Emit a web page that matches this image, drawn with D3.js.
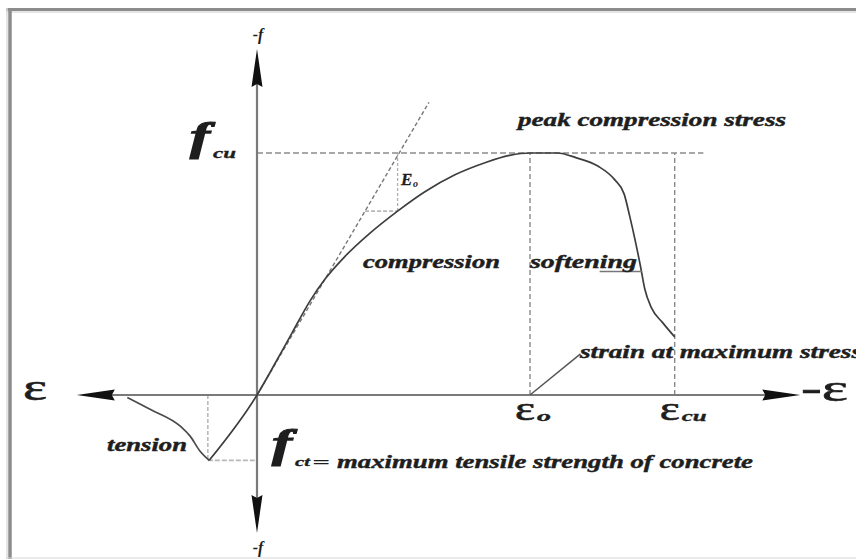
<!DOCTYPE html>
<html><head><meta charset="utf-8">
<script src="https://cdn.jsdelivr.net/npm/d3@7"></script>
<style>
html,body{margin:0;padding:0;background:#fff;}
svg{display:block;}
</style></head><body>
<svg id="c" width="856" height="559"></svg>
<script>
// ---- data (strain in arbitrary units, stress normalised to f_cu) ----
const tensionStrain = [-0.95, -0.78, -0.56, -0.49, -0.42, -0.35];
const tensionStress = [-0.01, -0.06, -0.13, -0.17, -0.23, -0.27];
const compressionStrain = [-0.35, 0, 0.13, 0.26, 0.39, 0.50, 0.64, 0.83, 1.03, 1.23, 1.45, 1.67, 1.85, 2.0, 2.20, 2.34, 2.50, 2.62, 2.69, 2.73, 2.77, 2.81, 2.84, 2.89, 2.97, 3.06];
const compressionStress = [-0.27, 0, 0.128, 0.26, 0.39, 0.48, 0.57, 0.67, 0.76, 0.84, 0.91, 0.96, 0.99, 1.0, 1.0, 0.98, 0.945, 0.89, 0.83, 0.74, 0.64, 0.53, 0.44, 0.36, 0.30, 0.24];
const keyStrains = [2.0, 3.06];          // eps_0, eps_cu
const keyStrainLabels = ["o", "cu"];
const fcu = 1.0, fct = -0.27, epsCt = -0.36;
const E0 = 0.96, tangentEndStrain = 1.26, triangleStrain = 1.03, triangleStress = 0.76;
const fcuLineEndStrain = 3.27;
const axisStrainRange = [-1.32, 3.98];
const axisStressRange = [-0.57, 1.43];
const leaderMaxStress = [[2.0, 0], [2.37, 0.17]];
const leaderSoftening = [[2.51, 0.51], [2.82, 0.51]];

const SERIF = "'Liberation Serif', 'DejaVu Serif', serif";

// ---- scales ----
const x = d3.scaleLinear().domain([0, 2]).range([257, 530]);
const y = d3.scaleLinear().domain([0, 1]).range([395, 153]);
const svg = d3.select("#c");

// frame
svg.append("rect").attr("x",0).attr("y",0).attr("width",856).attr("height",559).attr("fill","#fff");
svg.append("line").attr("x1",6).attr("x2",856).attr("y1",9.5).attr("y2",9.5).attr("stroke","#8c8c8c").attr("stroke-width",3);
svg.append("line").attr("x1",6).attr("x2",856).attr("y1",12).attr("y2",12).attr("stroke","#dcdcdc").attr("stroke-width",1.5);
svg.append("line").attr("x1",10).attr("x2",10).attr("y1",8).attr("y2",559).attr("stroke","#8c8c8c").attr("stroke-width",3.5);
svg.append("line").attr("x1",7).attr("x2",7).attr("y1",8).attr("y2",559).attr("stroke","#dcdcdc").attr("stroke-width",1.5);
svg.append("line").attr("x1",6).attr("x2",856).attr("y1",558).attr("y2",558).attr("stroke","#d8d8d8").attr("stroke-width",1.2);

// dashed guides
const dash = svg.append("g").attr("fill","none");
function dl(x1,y1,x2,y2,col,w,da){
  dash.append("line").attr("x1",x(x1)).attr("y1",y(y1)).attr("x2",x(x2)).attr("y2",y(y2))
    .attr("stroke",col).attr("stroke-width",w).attr("stroke-dasharray",da);
}
dl(0, fcu, fcuLineEndStrain, fcu, "#a8a8a8", 2, "6,3");
keyStrains.forEach(e => dl(e, 0, e, fcu, "#8a8a8a", 1.4, "5,3"));
dl(epsCt, 0, epsCt, fct, "#b0b0b0", 1.4, "4,2");
dl(epsCt, fct, 0, fct, "#b8b8b8", 1.8, "5,2");
dl(0, 0, tangentEndStrain, E0*tangentEndStrain, "#777", 1.4, "4,2.5");
dl(triangleStrain, triangleStress, triangleStrain, fcu, "#b0b0b0", 1.3, "3,2");
dl(triangleStress/E0, triangleStress, triangleStrain, triangleStress, "#b8b8b8", 1.8, "4,2");

// axes
const ax = svg.append("g").attr("stroke","#7a7a7a").attr("stroke-width",2.2);
ax.append("line").attr("x1",x(axisStrainRange[0])+20).attr("x2",x(axisStrainRange[1])-20).attr("y1",y(0)).attr("y2",y(0));
ax.append("line").attr("x1",x(0)).attr("x2",x(0)).attr("y1",y(axisStressRange[1])+20).attr("y2",y(axisStressRange[0])-20);

// arrowheads
function arrow(tx, ty, dx, dy){
  const L = 38, W = 5.5, px = -dy, py = dx;
  const bx = tx - dx*L, by = ty - dy*L;
  svg.append("path").attr("d", `M${tx},${ty}L${bx+px*W},${by+py*W}L${bx+dx*3},${by+dy*3}L${bx-px*W},${by-py*W}Z`).attr("fill","#111");
}
arrow(x(axisStrainRange[0]), y(0), -1, 0);
arrow(x(axisStrainRange[1]), y(0), 1, 0);
arrow(x(0), y(axisStressRange[1]), 0, -1);
arrow(x(0), y(axisStressRange[0]), 0, 1);

// curves
const line = d3.line().x(d => x(d[0])).y(d => y(d[1])).curve(d3.curveMonotoneX);
svg.append("path").datum(tensionStrain.map((e,i)=>[e,tensionStress[i]]))
  .attr("d", line).attr("fill","none").attr("stroke","#4a4a4a").attr("stroke-width",1.7);
svg.append("path").datum(compressionStrain.map((e,i)=>[e,compressionStress[i]]))
  .attr("d", line).attr("fill","none").attr("stroke","#3e3e3e").attr("stroke-width",1.7);

// leaders
const plain = d3.line().x(d => x(d[0])).y(d => y(d[1]));
svg.append("path").attr("d", plain(leaderMaxStress)).attr("stroke","#555").attr("stroke-width",1.5).attr("fill","none");
svg.append("path").attr("d", plain(leaderSoftening)).attr("stroke","#777").attr("stroke-width",1.5).attr("fill","none");

// text helpers
function t(str, px, py, size, italicBold, len, anchor, sw){
  const el = svg.append("text").attr("x", px).attr("y", py)
    .attr("font-family", SERIF).attr("font-size", size)
    .attr("fill", "#1e1e1e").text(str);
  if (italicBold) el.attr("font-style","italic").attr("font-weight","bold");
  if (len) el.attr("textLength", len).attr("lengthAdjust","spacingAndGlyphs");
  if (anchor) el.attr("text-anchor", anchor);
  if (sw) el.attr("stroke","#1e1e1e").attr("stroke-width", sw);
  return el;
}
// axis labels
t("-f", x(0)+1, 40, 16, true, null, "middle");
t("-f", x(0)+1, 553, 16, true, null, "middle");
t("ε", 23, 400, 38, false, 24, null, 0.6);
t("-ε", 801, 401, 38, false, 47, null, 0.6);
keyStrains.forEach((e,i) => {
  const cx = x(e);
  t("ε", cx-15, 420, 34, false, 20, null, 0.6);
  t(keyStrainLabels[i], cx+7, 421, 14, true, i===0 ? 14 : 25, null, 0.3);
});
// f labels
t("f", 190, 150, 40, true, 20, null, 1.2);
t("cu", 213, 158, 14, true, 23, null, 0.3);
t("f", 272, 457, 40, true, 20, null, 1.2);
t("ct", 295, 466, 13, true, 15, null, 0.3);
t("=", 312, 468, 16, true, 18);
t("maximum tensile strength of concrete", 337, 468, 18, true, 416, null, 0.4);
// annotations
t("peak compression stress", 518, 126, 18, true, 268, null, 0.4);
t("compression", 363, 268, 18, true, 137, null, 0.4);
t("softening", 530, 268, 18, true, 107, null, 0.4);
t("strain at maximum stress", 580, 358, 18, true, 282, null, 0.4);
t("tension", 107, 451, 18, true, 80, null, 0.4);
t("E", 401, 185, 17, true, null, null, 0.3);
t("o", 413, 187, 10, true);
</script>
</body></html>
